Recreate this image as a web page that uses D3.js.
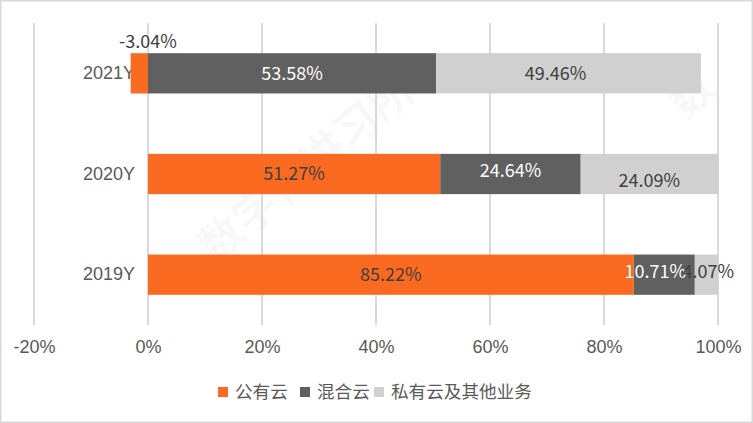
<!DOCTYPE html>
<html><head><meta charset="utf-8">
<script src="https://cdn.jsdelivr.net/npm/d3@7/dist/d3.min.js"></script>
<style>
html,body{margin:0;padding:0;background:#fff;}
svg{display:block;font-family:"Microsoft YaHei","Noto Sans CJK SC","Noto Sans",sans-serif;}
</style></head><body>
<svg id="c" width="753" height="423"></svg>
<script>
const categories = ["2021Y", "2020Y", "2019Y"];
const seriesNames = ["公有云", "混合云", "私有云及其他业务"];
// bar lengths as drawn (percent)
const publicCloud = [-3.04, 51.27, 85.22];
const hybridCloud = [50.54, 24.64, 10.71];
const privateCloud = [46.46, 24.09, 4.07];
// data label texts as shown
const publicLabels = ["-3.04%", "51.27%", "85.22%"];
const hybridLabels = ["53.58%", "24.64%", "10.71%"];
const privateLabels = ["49.46%", "24.09%", "4.07%"];
const xTicks = [-20, 0, 20, 40, 60, 80, 100];

const colors = ["#FA6A21", "#606060", "#D0D0D0"];
const labelColors = ["#404040", "#FFFFFF", "#404040"];

const svg = d3.select("#c");
const W = 753, H = 423;

// border
svg.append("rect").attr("x", 0.75).attr("y", 0.75).attr("width", W - 1.5).attr("height", H - 1.5)
  .attr("fill", "#fff").attr("stroke", "#D9D9D9").attr("stroke-width", 1.5);

// watermark (very faint)
const wm = svg.append("g").attr("fill", "#000").attr("fill-opacity", 0.035)
  .attr("font-weight", "bold").attr("font-size", 44);
wm.append("text").attr("transform", "translate(215,265) rotate(-40)").text("数字化讲习所");
wm.append("text").attr("transform", "translate(685,120) rotate(-40)").text("数");

const x = d3.scaleLinear().domain([-20, 100]).range([34, 718]);
const y = d3.scaleBand().domain(categories).range([23, 325]).paddingInner(0.6).paddingOuter(0.3);

// gridlines
svg.append("g").selectAll("line").data(xTicks).join("line")
  .attr("x1", d => x(d)).attr("x2", d => x(d))
  .attr("y1", 23).attr("y2", 325)
  .attr("stroke", "#D9D9D9").attr("stroke-width", 2);

// x axis labels
const xAxis = d3.axisBottom(x).tickValues(xTicks).tickSize(0).tickPadding(0).tickFormat(d => d + "%");
const gx = svg.append("g").attr("transform", "translate(0,340)").call(xAxis);
gx.select(".domain").remove();
gx.selectAll("text").attr("font-size", 18).attr("fill", "#595959").attr("font-family", null);

// y axis labels
const yAxis = d3.axisLeft(y).tickSize(0).tickPadding(0);
const gy = svg.append("g").attr("transform", "translate(135,0)").call(yAxis);
gy.select(".domain").remove();
gy.selectAll("text").attr("font-size", 18).attr("fill", "#595959").attr("font-family", null).attr("dy", "0.32em");

// stacked bars
const series = [publicCloud, hybridCloud, privateCloud];
const labels = [publicLabels, hybridLabels, privateLabels];
const rows = categories.map((c, i) => {
  let pos = 0;
  return series.map((s, k) => {
    const v = s[i];
    let x0, x1;
    if (v < 0) { x0 = v; x1 = 0; }
    else { x0 = pos; x1 = pos + v; pos = x1; }
    return { cat: c, k, x0, x1, label: labels[k][i] };
  });
}).flat();

svg.append("g").selectAll("rect").data(rows).join("rect")
  .attr("x", d => x(d.x0)).attr("width", d => x(d.x1) - x(d.x0))
  .attr("y", d => y(d.cat)).attr("height", y.bandwidth())
  .attr("fill", d => colors[d.k]);

// label position adjustments (manual placements as in reference)
const adj = {
  "2021Y-0": { dx: 0, dy: -32, anchor: "center0" },
  "2021Y-2": { dx: -13, dy: 0 },
  "2020Y-1": { dx: 0, dy: -3 },
  "2020Y-2": { dx: 0, dy: 7 },
  "2019Y-1": { dx: -9, dy: -3 },
  "2019Y-2": { dx: 2, dy: -3 }
};
svg.append("g").selectAll("text").data(rows).join("text")
  .attr("x", d => {
    const a = adj[d.cat + "-" + d.k] || {};
    const cx = a.anchor === "center0" ? x(0) : (x(d.x0) + x(d.x1)) / 2;
    return cx + (a.dx || 0);
  })
  .attr("y", d => {
    const a = adj[d.cat + "-" + d.k] || {};
    return y(d.cat) + y.bandwidth() / 2 + (a.dy || 0);
  })
  .attr("dy", "0.35em").attr("text-anchor", "middle")
  .attr("font-size", 18)
  .attr("fill", d => (d.cat === "2021Y" && d.k === 0) ? "#404040" : labelColors[d.k])
  .text(d => d.label);

// legend
const legend = svg.append("g");
const itemX = [218, 300, 374];
seriesNames.forEach((n, k) => {
  const g = legend.append("g").attr("transform", `translate(${itemX[k]},392)`);
  g.append("rect").attr("x", 0).attr("y", -5).attr("width", 10).attr("height", 10).attr("fill", colors[k]);
  g.append("text").attr("x", 17).attr("y", 0).attr("dy", "0.35em").attr("font-size", 17.6)
    .attr("fill", "#595959").text(n);
});
</script>
</body></html>
